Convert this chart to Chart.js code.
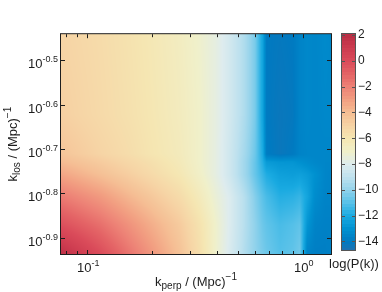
<!DOCTYPE html>
<html>
<head>
<meta charset="utf-8">
<script src="https://cdn.jsdelivr.net/npm/chart.js@4.4.1/dist/chart.umd.min.js"></script>
<style>
  html, body { margin: 0; padding: 0; background: #fff; }
  #wrap { position: relative; width: 382px; height: 292px; }
</style>
</head>
<body>
<div id="wrap"><canvas id="pk"></canvas></div>
<script>
// k_perp columns and k_los rows (1/Mpc), log(P(k)), one row per k_los (bottom to top)
const kPerp = [0.0755, 0.1146, 0.158, 0.195, 0.269, 0.333, 0.392, 0.460, 0.540, 0.601,
               0.653, 0.680, 0.785, 0.900, 0.970, 1.05, 1.14, 1.27, 1.355];
const kLos = [0.1157, 0.135, 0.156, 0.1754, 0.1865, 0.1944, 0.238, 0.3622];
const logP = [
  [ 1.8,  0.0, -1.6, -2.6, -4.2, -5.6, -7.0, -8.2, -9.3, -10.0, -10.4, -10.6, -11.0, -10.8, -10.5, -13.6, -13.8, -13.8, -13.7],
  [-0.2, -1.4, -2.6, -3.4, -4.6, -5.8, -7.0, -8.1, -9.2, -10.0, -10.6, -10.8, -11.2, -11.0, -10.8, -12.8, -13.6, -13.7, -13.7],
  [-1.8, -2.8, -3.8, -4.4, -5.4, -6.4, -7.3, -8.1, -9.2, -10.2, -10.9, -11.2, -11.8, -11.7, -11.5, -12.2, -13.2, -13.6, -13.6],
  [-3.2, -4.1, -4.8, -5.3, -6.1, -6.9, -7.6, -8.5, -9.7, -10.7, -11.5, -11.9, -12.4, -12.5, -12.4, -12.6, -13.0, -13.5, -13.6],
  [-3.9, -4.6, -5.2, -5.6, -6.3, -7.0, -7.6, -8.5, -9.7, -10.7, -11.8, -12.6, -12.8, -12.8, -13.0, -13.2, -13.4, -13.5, -13.5],
  [-4.3, -5.0, -5.5, -5.9, -6.4, -7.0, -7.6, -8.5, -9.6, -10.6, -12.0, -13.9, -14.2, -14.0, -13.6, -13.5, -13.5, -13.5, -13.5],
  [-4.8, -5.3, -5.7, -6.0, -6.5, -7.0, -7.6, -8.4, -9.4, -10.4, -12.3, -14.0, -14.2, -14.1, -13.6, -13.4, -13.5, -13.4, -13.4],
  [-5.0, -5.4, -5.8, -6.1, -6.6, -7.1, -7.6, -8.4, -9.4, -10.4, -12.3, -14.0, -14.1, -14.0, -13.6, -13.4, -13.5, -13.3, -13.4]
];

// axis ticks
const xTickExp = [-1, 0];
const xMinorTicks = [0.08, 0.09, 0.2, 0.3, 0.4, 0.5, 0.6, 0.7, 0.8, 0.9];
const yTickExp = [-0.9, -0.8, -0.7, -0.6, -0.5];
const cTicks = [-14, -12, -10, -8, -6, -4, -2, 0, 2];
const cRange = [-14.70, 2.07];   // colour limits

// colour map (value -> rgb)
const cmapVals = [-14.7, -14, -13, -12, -11, -10, -9, -8, -7, -6, -5, -4, -3, -2, -1, 0, 1, 2.07];
const cmapRGB = [[35,112,175],[0,122,193],[0,145,208],[25,170,225],[85,192,232],[145,210,235],
                 [190,225,238],[222,236,238],[240,240,202],[245,230,178],[246,212,165],[245,190,148],
                 [242,160,130],[237,130,118],[228,100,102],[218,75,90],[205,60,80],[185,45,68]];

const FONT = '"Liberation Sans", Arial, Helvetica, sans-serif';
const INK = '#1e1e1e';

function colorAt(v) {
  if (v <= cmapVals[0]) return cmapRGB[0];
  const n = cmapVals.length;
  if (v >= cmapVals[n - 1]) return cmapRGB[n - 1];
  let i = 0;
  while (v > cmapVals[i + 1]) i++;
  const t = (v - cmapVals[i]) / (cmapVals[i + 1] - cmapVals[i]);
  const a = cmapRGB[i], b = cmapRGB[i + 1];
  return [a[0] + (b[0] - a[0]) * t, a[1] + (b[1] - a[1]) * t, a[2] + (b[2] - a[2]) * t];
}
const clamp01 = t => Math.max(0, Math.min(1, t));

// text with sub/superscripts
function rich(ctx, parts, x, y, align) {
  let total = 0;
  parts.forEach(p => { ctx.font = p.size + 'px ' + FONT; p.w = ctx.measureText(p.t).width; total += p.w; });
  let cx = align === 'center' ? x - total / 2 : align === 'right' ? x - total : x;
  ctx.textAlign = 'left';
  ctx.textBaseline = 'alphabetic';
  parts.forEach(p => { ctx.font = p.size + 'px ' + FONT; ctx.fillText(p.t, cx, y + p.dy); cx += p.w; });
}
const expText = e => (e < 0 ? '-' : '') + String(Math.abs(e));

const heatmap = {
  id: 'heatmap',
  beforeDatasetsDraw(chart) {
    const { ctx, chartArea: a, scales: { x, y } } = chart;
    const w = Math.round(a.right - a.left), h = Math.round(a.bottom - a.top);
    const px = kPerp.map(k => x.getPixelForValue(k) - a.left);
    const py = kLos.map(k => y.getPixelForValue(k) - a.top);
    const off = document.createElement('canvas');
    off.width = w; off.height = h;
    const oc = off.getContext('2d');
    const img = oc.createImageData(w, h);
    for (let j = 0; j < h; j++) {
      const yy = j + 0.5;
      let r = 0;
      while (r < py.length - 2 && py[r + 1] > yy) r++;
      const ty = clamp01((py[r] - yy) / (py[r] - py[r + 1]));
      for (let i = 0; i < w; i++) {
        const xx = i + 0.5;
        let c = 0;
        while (c < px.length - 2 && px[c + 1] < xx) c++;
        const tx = clamp01((xx - px[c]) / (px[c + 1] - px[c]));
        const v0 = logP[r][c] * (1 - tx) + logP[r][c + 1] * tx;
        const v1 = logP[r + 1][c] * (1 - tx) + logP[r + 1][c + 1] * tx;
        const col = colorAt(v0 * (1 - ty) + v1 * ty);
        const o = (j * w + i) * 4;
        img.data[o] = col[0]; img.data[o + 1] = col[1]; img.data[o + 2] = col[2]; img.data[o + 3] = 255;
      }
    }
    oc.putImageData(img, 0, 0);
    ctx.drawImage(off, a.left, a.top);
  },
  afterDraw(chart) {
    const { ctx, chartArea: a, scales: { x, y, c } } = chart;
    ctx.save();
    ctx.strokeStyle = INK;
    ctx.lineWidth = 1;
    // ticks, inward on all four sides
    ctx.beginPath();
    const xt = (k, len) => {
      const p = Math.round(x.getPixelForValue(k)) + 0.5;
      ctx.moveTo(p, a.bottom); ctx.lineTo(p, a.bottom - len);
      ctx.moveTo(p, a.top); ctx.lineTo(p, a.top + len);
    };
    xTickExp.forEach(e => xt(Math.pow(10, e), 4));
    xMinorTicks.forEach(k => xt(k, 3));
    yTickExp.forEach(e => {
      const p = Math.round(y.getPixelForValue(Math.pow(10, e))) + 0.5;
      ctx.moveTo(a.left, p); ctx.lineTo(a.left + 4, p);
      ctx.moveTo(a.right, p); ctx.lineTo(a.right - 4, p);
    });
    ctx.stroke();
    ctx.strokeRect(a.left - 0.5, a.top - 0.5, a.right - a.left + 1, a.bottom - a.top + 1);

    // tick labels
    ctx.fillStyle = INK;
    xTickExp.forEach(e => {
      rich(ctx, [{ t: '10', size: 13, dy: 0 }, { t: expText(e), size: 9, dy: -6 }],
           x.getPixelForValue(Math.pow(10, e)) + 1, 272, 'center');
    });
    yTickExp.forEach(e => {
      rich(ctx, [{ t: '10', size: 13, dy: 0 }, { t: expText(e), size: 9, dy: -6 }],
           58, y.getPixelForValue(Math.pow(10, e)) + 8, 'right');
    });

    // axis titles
    rich(ctx, [{ t: 'k', size: 13, dy: 0 }, { t: 'perp', size: 10, dy: 3 },
               { t: ' / (Mpc)', size: 13, dy: 0 }, { t: '\u22121', size: 10, dy: -6 }],
         (a.left + a.right) / 2, 286, 'center');
    ctx.save();
    ctx.translate(17, (a.top + a.bottom) / 2);
    ctx.rotate(-Math.PI / 2);
    rich(ctx, [{ t: 'k', size: 13, dy: 0 }, { t: 'los', size: 10, dy: 3 },
               { t: ' / (Mpc)', size: 13, dy: 0 }, { t: '\u22121', size: 10, dy: -6 }],
         0, 0, 'center');
    ctx.restore();

    // colour bar, 64 bands on the c scale
    const bl = 342, br = 355;
    const top = c.getPixelForValue(cRange[1]), bot = c.getPixelForValue(cRange[0]);
    const nb = 64, step = (cRange[1] - cRange[0]) / nb;
    for (let b = 0; b < nb; b++) {
      const v0 = cRange[0] + b * step, v1 = v0 + step;
      const col = colorAt(v0 + step / 2);
      ctx.fillStyle = 'rgb(' + col.map(Math.round).join(',') + ')';
      const y0 = c.getPixelForValue(v1), y1 = c.getPixelForValue(v0);
      ctx.fillRect(bl, Math.floor(y0), br - bl, Math.ceil(y1) - Math.floor(y0));
    }
    ctx.strokeStyle = '#555';
    ctx.beginPath();
    cTicks.forEach(v => {
      const p = Math.round(c.getPixelForValue(v)) + 0.5;
      ctx.moveTo(bl, p); ctx.lineTo(bl + 3, p);
      ctx.moveTo(br, p); ctx.lineTo(br - 3, p);
    });
    ctx.stroke();
    ctx.strokeRect(bl - 0.5, Math.round(top) - 0.5, br - bl + 1, Math.round(bot) - Math.round(top) + 1);
    ctx.fillStyle = INK;
    ctx.font = '13px ' + FONT;
    ctx.textAlign = 'center';
    ctx.textBaseline = 'alphabetic';
    ctx.fillText('log(P(k))', 354, 268);
    ctx.restore();
  }
};

const nodes = [];
kLos.forEach((ky, r) => kPerp.forEach((kx, i) => nodes.push({ x: kx, y: ky, v: logP[r][i] })));

new Chart(document.getElementById('pk'), {
  type: 'scatter',
  data: { datasets: [{ data: nodes, pointRadius: 0, showLine: false }] },
  options: {
    responsive: true,
    maintainAspectRatio: false,
    animation: false,
    devicePixelRatio: 1,
    events: [],
    layout: { padding: { top: 10, left: 0, right: 0, bottom: 0 } },
    plugins: { legend: { display: false }, tooltip: { enabled: false } },
    scales: {
      x: {
        type: 'logarithmic',
        min: 0.07548, max: 1.3531,
        grid: { display: false }, border: { display: false },
        ticks: { display: false },
        afterFit(s) { s.height = 38; }
      },
      y: {
        type: 'logarithmic',
        position: 'left',
        min: 0.11571, max: 0.36224,
        grid: { display: false }, border: { display: false },
        ticks: { display: false },
        afterFit(s) { s.width = 61; }
      },
      c: {
        type: 'linear',
        position: 'right',
        min: -14.98, max: 2.07,
        grid: { display: false, drawTicks: false }, border: { display: false },
        afterBuildTicks(s) { s.ticks = cTicks.map(v => ({ value: v })); },
        ticks: {
          padding: 27,
          color: INK,
          font: { family: FONT, size: 12 },
          callback: v => (v < 0 ? '\u2212' : '') + Math.abs(v)
        },
        afterFit(s) { s.width = 51; }
      }
    }
  },
  plugins: [heatmap]
});
</script>
</body>
</html>
